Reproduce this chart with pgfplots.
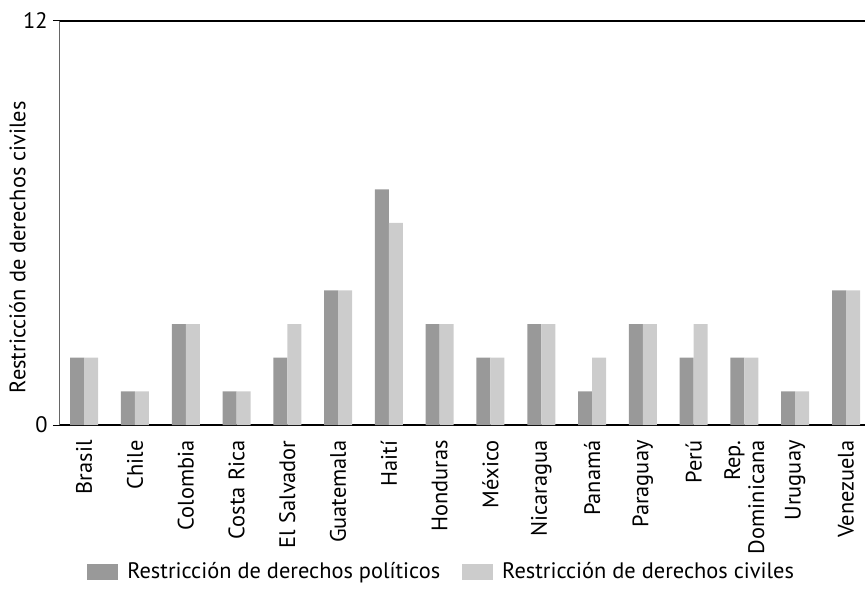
\documentclass[border=0pt]{standalone}
\usepackage{fontspec}
\setmainfont{PT Sans}
\usepackage{pgfplots}
\pgfplotsset{compat=1.18}
\definecolor{darkbar}{HTML}{999999}
\definecolor{lightbar}{HTML}{CCCCCC}
\begin{document}
\begin{tikzpicture}[font=\fontsize{11.2pt}{12pt}\selectfont]
\path[use as bounding box] (-30pt,-81.5pt) rectangle (402.5pt,212.5pt);
\begin{axis}[
  at={(0,0)}, anchor=south west,
  scale only axis, width=402.5pt, height=202pt,
  ybar=0pt, bar width=7pt,
  xmin=-0.476, xmax=15.374,
  ymin=0, ymax=12,
  axis x line*=bottom, axis y line*=left,
  x axis line style={black, line width=0.6pt},
  y axis line style={black!60, line width=0.5pt},
  xtick={0,...,15},
  xticklabels={Brasil,Chile,Colombia,Costa Rica,El Salvador,Guatemala,Haití,Honduras,México,Nicaragua,Panamá,Paraguay,Perú,{Rep.\\Dominicana},Uruguay,Venezuela},
  xticklabel style={rotate=90, anchor=east, align=right, inner sep=0pt, xshift=-4pt},
  x tick style={draw=none},
  ytick={0,12},
  y tick style={black, line width=0.5pt},
  tick align=outside, major tick length=3.5pt,
  yticklabel style={inner sep=0pt, xshift=-2.5pt},
  /pgf/number format/assume math mode=true,
  ylabel={Restricción de derechos civiles},
  ylabel style={at={(axis description cs:-0.0528,0.44)}, anchor=center, inner sep=0pt},
  legend columns=2,
  legend style={draw=none, at={(axis description cs:0.0335,-0.364)}, anchor=west, inner sep=0pt,
    /tikz/every even column/.append style={column sep=9pt}},
  legend image code/.code={\fill[#1] (0pt,-4pt) rectangle (15.5pt,4pt); \path (18pt,0pt);},
  legend cell align=left,
]
\addplot[fill=darkbar, draw=none] coordinates {(0,2) (1,1) (2,3) (3,1) (4,2) (5,4) (6,7) (7,3) (8,2) (9,3) (10,1) (11,3) (12,2) (13,2) (14,1) (15,4)};
\addplot[fill=lightbar, draw=none] coordinates {(0,2) (1,1) (2,3) (3,1) (4,3) (5,4) (6,6) (7,3) (8,2) (9,3) (10,2) (11,3) (12,3) (13,2) (14,1) (15,4)};
\legend{Restricción de derechos políticos, Restricción de derechos civiles}
\draw[black, line width=0.6pt] (rel axis cs:0,1) -- (rel axis cs:1,1);
\end{axis}
\end{tikzpicture}
\end{document}
